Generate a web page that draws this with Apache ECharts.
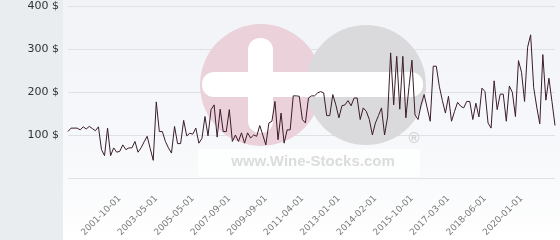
<!DOCTYPE html>
<html><head><meta charset="utf-8">
<script src="https://cdn.jsdelivr.net/npm/echarts@6/dist/echarts.min.js"></script>
<style>
html,body{margin:0;padding:0;background:#fff;}
#c{width:560px;height:240px;background:linear-gradient(to right,#e9edf0 0,#e9edf0 63px,transparent 63px),linear-gradient(to bottom,#f2f3f7 0%,#f8f9fb 70%,#ffffff 100%);}
</style></head><body><div id="c"></div>
<script>
// price per point (USD)
const prices = [
  108,116,116,116,112,119,114,120,115,110,
  119,66,52,116,52,70,60,62,77,66,
  70,70,85,60,70,84,97,69,41,177,
  108,108,85,70,58,120,80,80,134,98,
  104,102,116,81,92,143,98,159,170,95,
  160,108,108,159,85,100,85,105,81,105,
  93,100,97,122,100,77,128,132,178,89,
  151,81,112,112,191,191,190,136,128,186,
  191,191,198,201,198,145,145,194,170,140,
  168,170,180,168,186,186,136,163,155,136,
  100,128,145,163,100,142,291,170,283,160,
  283,140,210,274,147,136,170,194,163,132,
  260,260,213,180,151,190,132,155,176,167,
  163,178,178,136,174,142,209,201,128,116,
  226,159,195,195,132,214,199,143,273,246,
  178,304,333,210,165,126,287,181,232,178,122
];
// x tick labels and the point index each belongs to
const tickLabels = ['2001-10-01','2003-05-01','2005-05-01','2007-09-01','2009-09-01','2011-04-01','2013-01-01','2014-02-01','2015-10-01','2017-03-01','2018-06-01','2020-01-01'];
const tickIndex = [17,29,41,53,65,77,89,101,113,125,137,149];
const yMin = 0, yMax = 400, yStep = 100;

const categories = prices.map((_, i) => i);
const labelAt = {};
tickIndex.forEach((idx, k) => { labelAt[idx] = tickLabels[k]; });

const chart = echarts.init(document.getElementById('c'), null, {renderer: 'canvas'});
chart.setOption({
  animation: false,
  backgroundColor: 'transparent',
  grid: {left: 68, right: 5, top: 6, bottom: 62, containLabel: false, outerBoundsMode: 'none'},
  graphic: [
    {type: 'circle', z: 1, silent: true, shape: {cx: 261, cy: 85, r: 61}, style: {fill: '#ebd1d9'}},
    {type: 'circle', z: 1, silent: true, shape: {cx: 366, cy: 85, r: 60}, style: {fill: '#dadadc'}},
    {type: 'rect', z: 1, silent: true, shape: {x: 202, y: 72, width: 221, height: 25, r: 12}, style: {fill: '#ffffff'}},
    {type: 'rect', z: 1, silent: true, shape: {x: 248, y: 38, width: 25, height: 95, r: 12}, style: {fill: '#ffffff'}},
    {type: 'rect', z: 1, silent: true, shape: {x: 198, y: 149, width: 222, height: 28}, style: {fill: 'rgba(255,255,255,0.75)'}},
    {type: 'text', z: 1, silent: true, x: 313, y: 162, style: {text: 'www.Wine-Stocks.com', font: 'bold 15px "Liberation Sans", Arial, sans-serif', fill: '#dcdcdc', align: 'center', verticalAlign: 'middle'}},
    {type: 'text', z: 1, silent: true, x: 414, y: 139, style: {text: '®', font: 'bold 15px "Liberation Sans", Arial, sans-serif', fill: '#d2d2d2', align: 'center', verticalAlign: 'middle'}}
  ],
  xAxis: {
    type: 'category',
    data: categories,
    boundaryGap: false,
    axisLine: {show: false},
    axisTick: {show: false},
    splitLine: {show: false},
    axisLabel: {
      rotate: 45,
      interval: (idx) => labelAt[idx] !== undefined,
      formatter: (v, idx) => labelAt[idx] || '',
      fontSize: 9,
      fontFamily: 'DejaVu Sans',
      color: '#7a7a7a',
      margin: 19
    }
  },
  yAxis: {
    type: 'value',
    min: yMin, max: yMax, interval: yStep,
    axisLine: {show: false},
    axisTick: {show: false},
    splitLine: {show: true, lineStyle: {color: '#dfe1e5', width: 1}},
    axisLabel: {
      formatter: (v) => v === 0 ? '' : v + ' $',
      fontSize: 11,
      fontFamily: 'DejaVu Sans',
      color: '#333',
      margin: 9
    }
  },
  series: [{
    type: 'line',
    data: prices,
    z: 3,
    showSymbol: false,
    symbol: 'none',
    lineStyle: {color: '#3b1c2a', width: 1}
  }]
});
</script>
</body></html>
